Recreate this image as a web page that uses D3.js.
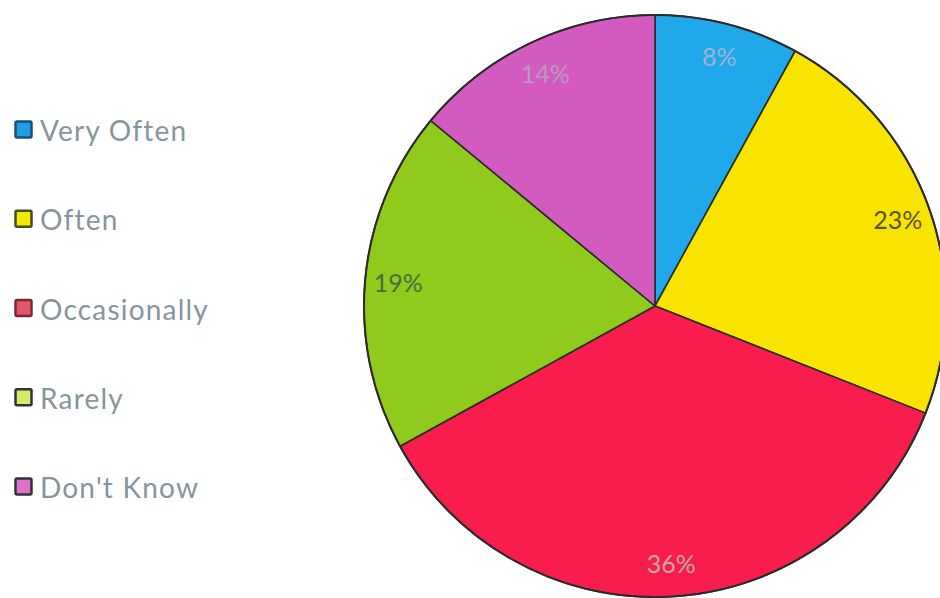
<!DOCTYPE html>
<html>
<head>
<meta charset="utf-8">
<script src="https://cdn.jsdelivr.net/npm/d3@7"></script>
<style>
  html, body { margin: 0; padding: 0; background: #ffffff; }
  svg { display: block; }
</style>
</head>
<body>
<svg id="chart" width="940" height="598"></svg>
<script>
// Survey answers, clockwise from 12 o'clock
const categories = ["Very Often", "Often", "Occasionally", "Rarely", "Don't Know"];
const percents   = [8, 23, 36, 19, 14];
const sliceColors  = ["#1fa9ea", "#f9e400", "#f81d4c", "#8fca1d", "#d35bbf"];
const swatchFill   = ["#1e9fe2", "#f2e80a", "#e2566a", "#d9e868", "#e070c8"];
const swatchStroke = ["#1b4f7a", "#4b4a1a", "#7a2a35", "#2e3436", "#2e3436"];

const svg = d3.select("#chart");
const cx = 655, cy = 306, R = 291;

const pie = d3.pie().sort(null).value(d => d)(percents);
const arc = d3.arc().innerRadius(0).outerRadius(R);
const labelArc = d3.arc().innerRadius(258).outerRadius(258);

const g = svg.append("g").attr("transform", `translate(${cx},${cy})`);

g.selectAll("path.slice")
  .data(pie)
  .join("path")
  .attr("class", "slice")
  .attr("d", arc)
  .attr("fill", (d, i) => sliceColors[i])
  .attr("stroke", "#2b2b2b")
  .attr("stroke-width", 1.6)
  .attr("stroke-linejoin", "round");

// outer rim
g.append("circle")
  .attr("r", R)
  .attr("fill", "none")
  .attr("stroke", "#2b2b2b")
  .attr("stroke-width", 2);

const labelColors = ["#9db3d4", "#55552e", "#c7a6a8", "#4f6a3a", "#b89abb"];

g.selectAll("text.pct")
  .data(pie)
  .join("text")
  .attr("class", "pct")
  .attr("transform", d => `translate(${labelArc.centroid(d)})`)
  .attr("text-anchor", "middle")
  .attr("dominant-baseline", "central")
  .attr("font-family", "Lato, 'Open Sans', sans-serif")
  .attr("font-size", 25)
  .attr("fill", (d, i) => labelColors[i])
  .text(d => d.data + "%");

// Legend
const legendY = d3.scalePoint().domain(categories).range([130, 487]);

const leg = svg.append("g")
  .selectAll("g")
  .data(categories)
  .join("g")
  .attr("transform", d => `translate(0,${legendY(d)})`);

leg.append("rect")
  .attr("x", 15.5).attr("y", -8.5)
  .attr("width", 16).attr("height", 16)
  .attr("rx", 1.5)
  .attr("fill", (d, i) => swatchFill[i])
  .attr("stroke", (d, i) => swatchStroke[i])
  .attr("stroke-width", 2.5);

leg.append("text")
  .attr("x", 40).attr("y", 0)
  .attr("dominant-baseline", "central")
  .attr("font-family", "Lato, 'Open Sans', sans-serif")
  .attr("font-size", 28)
  .attr("letter-spacing", 1.2)
  .attr("fill", "#86959c")
  .text(d => d);
</script>
</body>
</html>
